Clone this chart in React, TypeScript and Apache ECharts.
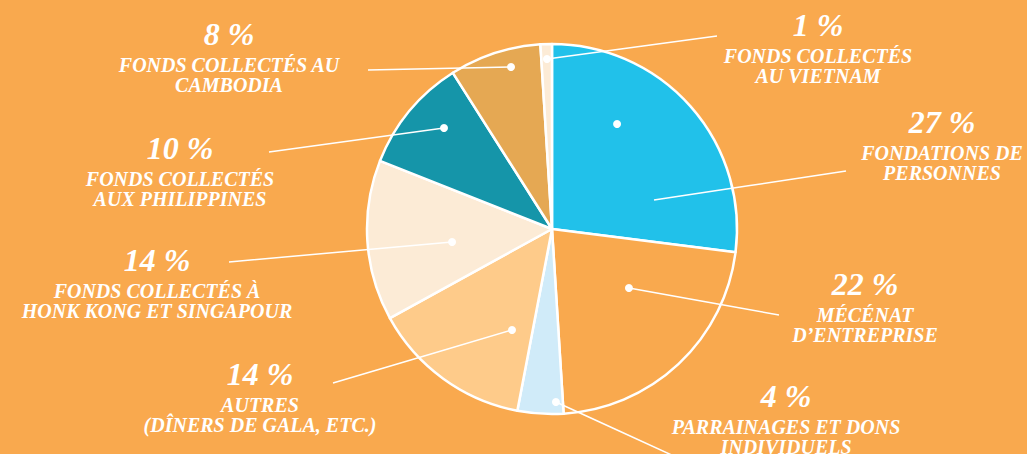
import React, { useEffect, useRef } from "react";
import * as echarts from "echarts";

const percents = [27, 22, 4, 14, 14, 10, 8, 1];
const names = [
  "FONDATIONS DE\nPERSONNES",
  "MÉCÉNAT\nD’ENTREPRISE",
  "PARRAINAGES ET DONS\nINDIVIDUELS",
  "AUTRES\n(DÎNERS DE GALA, ETC.)",
  "FONDS COLLECTÉS À\nHONK KONG ET SINGAPOUR",
  "FONDS COLLECTÉS\nAUX PHILIPPINES",
  "FONDS COLLECTÉS AU\nCAMBODIA",
  "FONDS COLLECTÉS\nAU VIETNAM",
];
const sliceColors = ["#21C1EA", "#F9A94E", "#D0EBF9", "#FECB8A", "#FCEBD6", "#1595A9", "#E5A853", "#FCEBD6"];

// annotation dot positions: [radius px, angle deg clockwise from top]
const dotRadius = [123.5, 97, 173, 108.6, 100.8, 147.9, 167.1, 170.1];
const dotAngle = [31.8, 127.5, 178.7, 201.6, 262.6, 313.1, 345.8, 358.3];

// label layout (top-centre of each label block) and leader-line ends
const labelPos = [[942, 100.5], [865, 262.5], [786, 374.5], [260, 352.5], [157, 238.5], [180, 126.5], [229, 12.5], [818, 3.5]];
const lineEnd = [[846, 171], [779, 315], [676, 457], [333, 383], [229, 262], [269, 152], [368, 70], [717, 36]];
const lineStartOverride: Record<number, number[]> = { 0: [654, 200] };

const CX = 552;
const CY = 229;
const R = 185;
const FONT = "'Liberation Serif', 'DejaVu Serif', serif";

export default function App() {
  const ref = useRef<HTMLDivElement>(null);
  useEffect(() => {
    if (!ref.current) return;
    const chart = echarts.init(ref.current, null, { renderer: "svg" });
    const dotPixel = (i: number) => {
      const a = (dotAngle[i] * Math.PI) / 180;
      return [CX + dotRadius[i] * Math.sin(a), CY - dotRadius[i] * Math.cos(a)];
    };
    chart.setOption({
      animation: false,
      backgroundColor: "#F9A94E",
      polar: { center: [CX, CY], radius: R },
      angleAxis: { type: "value", min: 0, max: 360, startAngle: 90, clockwise: true, show: false },
      radiusAxis: { type: "value", min: 0, max: R, show: false },
      series: [
        {
          type: "pie",
          center: [CX, CY],
          radius: [0, R],
          startAngle: 90,
          clockwise: true,
          silent: true,
          z: 1,
          itemStyle: { borderColor: "#FFFFFF", borderWidth: 2.5 },
          label: { show: false },
          labelLine: { show: false },
          data: percents.map((v, i) => ({
            value: v,
            name: names[i],
            itemStyle: { color: sliceColors[i] },
          })),
        },
        {
          type: "pie",
          center: [CX, CY],
          radius: [0, R],
          startAngle: 90,
          clockwise: true,
          silent: true,
          avoidLabelOverlap: false,
          z: 10,
          itemStyle: { color: "rgba(0,0,0,0)", borderWidth: 0 },
          data: percents.map((v, i) => ({ value: v, name: names[i] })),
          label: {
            show: true,
            position: "outside",
            formatter: (p: any) => {
              const lines = String(p.name).split("\n").map((l: string) => `{n|${l}}`).join("\n");
              return `{p|${p.value} %}\n${lines}`;
            },
            align: "center",
            rich: {
              p: {
                fontFamily: FONT,
                fontStyle: "italic",
                fontWeight: "bold",
                fontSize: 32,
                lineHeight: 42,
                color: "#FFFFFF",
                align: "center",
              },
              n: {
                fontFamily: FONT,
                fontStyle: "italic",
                fontWeight: "bold",
                fontSize: 20,
                lineHeight: 20,
                color: "#FFFFFF",
                align: "center",
              },
            },
          },
          labelLine: { show: true, lineStyle: { color: "#FFFFFF", width: 1.5 } },
          labelLayout: (params: any) => {
            const i = params.dataIndex;
            const s = lineStartOverride[i] || dotPixel(i);
            const e = lineEnd[i];
            return {
              x: labelPos[i][0],
              y: labelPos[i][1],
              align: "center",
              verticalAlign: "top",
              labelLinePoints: [s, [(s[0] + e[0]) / 2, (s[1] + e[1]) / 2], e],
            };
          },
        },
        {
          type: "scatter",
          coordinateSystem: "polar",
          silent: true,
          symbol: "circle",
          symbolSize: 8,
          itemStyle: { color: "#FFFFFF", opacity: 1 },
          z: 20,
          data: dotRadius.map((r, i) => [r, dotAngle[i]]),
        },
      ],
    });
    return () => chart.dispose();
  }, []);
  return (
    <div
      ref={ref}
      style={{ position: "fixed", left: 0, top: 0, width: 1027, height: 454 }}
    />
  );
}
